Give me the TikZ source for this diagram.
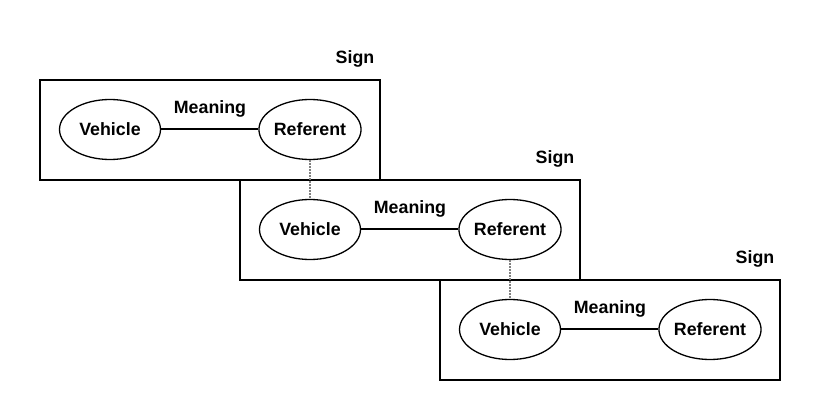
\documentclass[tikz,border=0pt]{standalone}
\usepackage{fontspec}
\setmainfont{Liberation Sans}
\usetikzlibrary{shapes.geometric}
\begin{document}
\begin{tikzpicture}[x=1pt,y=-1pt,
  signbox/.style={draw,line width=1.3pt,minimum width=340pt,minimum height=100pt,inner sep=0pt},
  elli/.style={draw,ellipse,line width=1.3pt,minimum width=101pt,minimum height=60pt,inner sep=0pt,font=\fontsize{17.8}{19}\selectfont\bfseries},
  lbl/.style={font=\fontsize{17.8}{19}\selectfont\bfseries,inner sep=0pt},
  link/.style={line width=1.3pt},
  dots/.style={draw=gray,line width=1.3pt,dash pattern=on 1.5pt off 1.5pt}]
\useasboundingbox (0,0) rectangle (820,420);
\foreach \i/\dx/\dy in {1/0/0,2/200/100,3/400/200}{
  \node[signbox] (box\i) at (210+\dx,130+\dy) {};
  \node[elli] (veh\i) at (110+\dx,129.5+\dy) {Vehicle};
  \node[elli] (ref\i) at (310+\dx,129.5+\dy) {Referent};
  \node[lbl] (mean\i) at (210+\dx,108.5+\dy) {Meaning};
  \node[lbl] (sign\i) at (355+\dx,58.5+\dy) {Sign};
  \draw[link] ([yshift=0.5pt]veh\i.east) -- ([yshift=0.5pt]ref\i.west);
}
\draw[dots] (ref1.south) -- (veh2.north);
\draw[dots] (ref2.south) -- (veh3.north);
\end{tikzpicture}
\end{document}
